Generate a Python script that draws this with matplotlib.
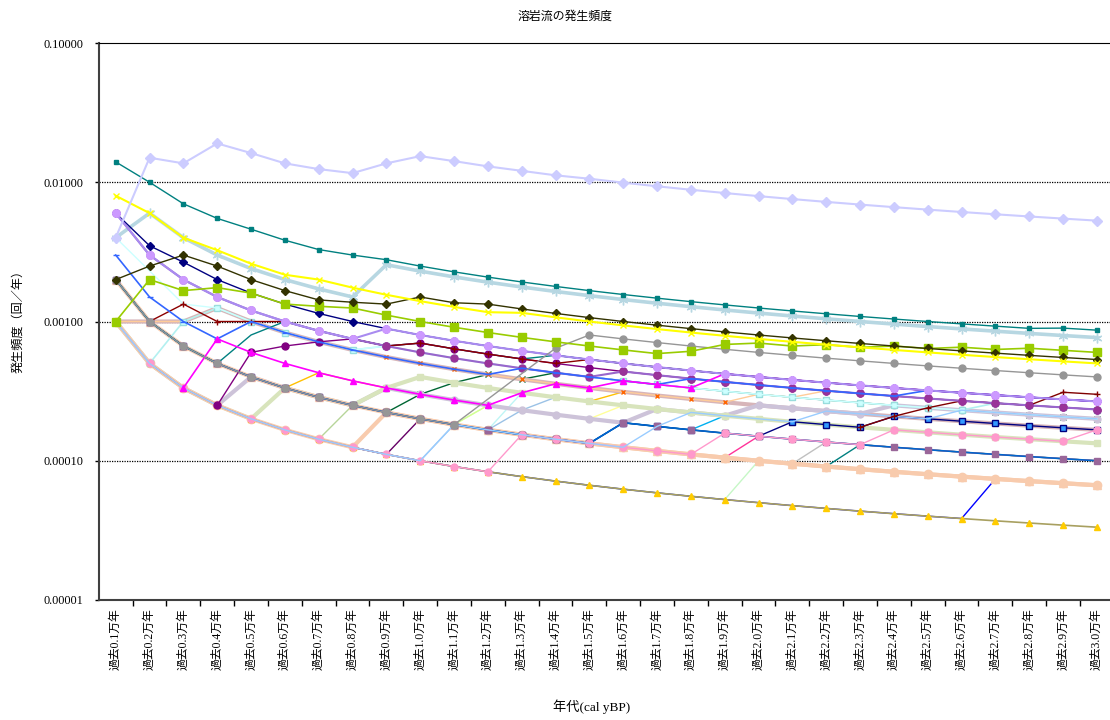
import numpy as np
import matplotlib.pyplot as plt
from matplotlib.ticker import FixedLocator, NullFormatter, NullLocator

plt.rcParams['font.family'] = ['Liberation Serif', 'Noto Sans CJK JP']

# 年代 (万年)
ages = [0.1, 0.2, 0.3, 0.4, 0.5, 0.6, 0.7, 0.8, 0.9, 1.0,
        1.1, 1.2, 1.3, 1.4, 1.5, 1.6, 1.7, 1.8, 1.9, 2.0,
        2.1, 2.2, 2.3, 2.4, 2.5, 2.6, 2.7, 2.8, 2.9, 3.0]
age_labels = ["過去%.1f万年" % a for a in ages]

# cumulative number of lava flows within each period
lava_a = [4, 30, 41, 76, 81, 82, 87, 93, 123, 154, 156, 156, 157, 157, 159, 159, 159, 159, 159, 159, 159, 159, 159, 159, 159, 159, 159, 159, 159, 159]
teal_b = [14, 20, 21, 22, 23, 23, 23, 24, 25, 25, 25, 25, 25, 25, 25, 25, 25, 25, 25, 25, 25, 25, 25, 25, 25, 25, 25, 25, 26, 26]
lblue_c = [4, 12, 12, 12, 12, 12, 12, 12, 23, 23, 23, 23, 23, 23, 23, 23, 23, 23, 23, 23, 23, 23, 23, 23, 23, 23, 23, 23, 23, 23]
yellow_d = [8, 12, 12, 13, 13, 13, 14, 14, 14, 14, 14, 14, 15, 15, 15, 15, 15, 15, 15, 15, 15, 15, 15, 15, 15, 15, 15, 15, 15, 15]
olive_e = [2, 5, 9, 10, 10, 10, 10, 11, 12, 15, 15, 16, 16, 16, 16, 16, 16, 16, 16, 16, 16, 16, 16, 16, 16, 16, 16, 16, 16, 16]
ygreen_f = [1, 4, 5, 7, 8, 8, 9, 10, 10, 10, 10, 10, 10, 10, 10, 10, 10, 11, 13, 14, 14, 15, 15, 16, 16, 17, 17, 18, 18, 18]
gray_g = [2, 2, 2, 2, 2, 2, 2, 2, 2, 2, 2, None, None, 9, 12, 12, 12, 12, 12, 12, 12, 12, 12, 12, 12, 12, 12, 12, 12, 12]
navy_h = [6, 7, 8, 8, 8, 8, 8, 8, 8, 8, 8, 8, 8, 8, 8, 8, 8, 8, 8, 8, 8, 8, 8, 8, 8, 8, 8, 8, 8, 8]
lilac_i = [6, 6, 6, 6, 6, 6, 6, 6, 8, 8, 8, 8, 8, 8, 8, 8, 8, 8, 8, 8, 8, 8, 8, 8, 8, 8, 8, 8, 8, 8]
blue_j = [3, 3, 3, 3, 5, 5, 5, 5, 5, 5, 5, 5, 6, 6, 6, 6, 6, 7, 7, 7, 7, 7, 7, 7, 8, 8, 8, 8, 8, 8]
rosy_k = [1, 2, 3, 5, 5, 5, 5, 5, 5, 5, 5, 5, 5, 5, 5, 5, 5, 5, 5, 5, 5, 5, 5, 5, 5, 5, 5, 5, 5, 5]
mauve_l = [1, 1, 1, 1, 2, 2, 2, 2, 3, 3, 3, 3, 3, 3, 3, 3, 4, 4, 4, 5, 5, 5, 5, 6, 6, 6, 6, 6, 6, 6]
peach_m = [2, 2, 2, 2, 2, 2, 2, 2, 2, 2, 2, 2, 2, 2, 2, 2, 2, 2, 2, 2, 2, 2, 2, 2, 2, 2, 2, 2, 2, 2]
peach_n = [1, 1, 1, 1, 1, 1, 1, 1, 2, 2, 2, 2, 2, 2, 2, 2, 2, 2, 2, 2, 2, 2, 2, 2, 2, 2, 2, 2, 2, 2]
sage_o = [1, 1, 1, 1, 1, 2, 2, 2, 3, 4, 4, 4, 4, 4, 4, 4, 4, 4, 4, 4, 4, 4, 4, 4, 4, 4, 4, 4, 4, 4]
gold_p = [1, 1, 1, 1, 1, 1, 1, 1, 1, 1, 1, 1, 1, 1, 1, 1, 1, 1, 1, 1, 1, 1, 1, 1, 1, 1, 1, 1, 1, 1]
magenta_q = [None, None, 1, 3, 3, 3, 3, 3, 3, 3, 3, 3, 4, 5, 5, 6, 6, 6, 8, 8, 8, 8, 8, 8, 8, 8, 8, 8, 8, 8]
dred_r = [None, 2, 4, 4, 5, 6, 6, 6, 6, 7, 7, 7, 7, 7, 8, 8, 8, 8, 8, 8, 8, 8, 8, 8, 8, 8, 8, 8, 8, 8]
purple_s = [None, None, None, 1, 3, 4, 5, 6, 6, 7, 7, 7, 7, 7, 7, 7, 7, 7, 7, 7, 7, 7, 7, 7, 7, 7, 7, 7, 7, 7]
violet_t = [6, 6, 6, 6, 6, 6, 6, 6, 6, 6, 6, 6, 6, 6, 6, 7, 7, 7, 7, 7, 7, 7, 7, 7, 7, 7, 7, 7, 7, 7]
pink_u = [1, 1, 1, 1, 1, 1, 1, 1, 1, 1, 1, 1, 2, 2, 2, 2, 2, 2, 3, 3, 3, 3, 3, 4, 4, 4, 4, 4, 4, 5]
dpink_v = [2, 2, 2, 2, 2, 2, 2, 2, 2, 2, 2, 2, 2, 2, 2, 2, 2, 2, 2, 3, 3, 3, 3, 3, 3, 3, 3, 3, 3, 3]
navy_w = [2, 2, 2, 2, 2, 2, 2, 2, 2, 2, 2, 2, 2, 2, 2, 3, 3, 3, 3, 3, 4, 4, 4, 5, 5, 5, 5, 5, 5, 5]
sky_x = [2, 2, 2, 2, 2, 2, 2, 2, 2, 2, 2, 2, 2, 2, 2, 3, 3, 3, 4, 4, 4, 4, 4, 4, 4, 4, 4, 4, 4, 4]
pblue_y = [1, 1, 1, 1, 1, 1, 1, 1, 1, 1, 2, 2, 2, 2, 2, 2, 3, 4, 4, 4, 4, 5, 5, 5, 5, 6, 6, 6, 6, 6]
lyellow_z = [2, 2, 2, 2, 2, 2, 2, 2, 2, 2, 2, 3, 3, 3, 3, 4, 4, 4, 4, 4, 4, 4, 4, 4, 4, 4, 4, 4, 4, 4]
lime_aa = [2, 2, 2, 2, 2, 2, 2, 2, 2, 2, 2, 3, 3, 3, 3, 3, 3, 3, 3, 3, 3, 3, 3, 3, 3, 3, 3, 3, 3, 3]
orange_ab = [2, 2, 2, 2, 2, 2, 3, 3, 3, 4, 4, 4, 4, 4, 4, 5, 5, 5, 5, 5, 5, 5, 5, 5, 5, 5, 5, 5, 5, 5]
tan_ac = [1, 2, 3, 5, 5, 5, 5, 5, 5, 5, 5, 5, 5, 5, 5, 5, 5, 5, 5, 6, 6, 7, 7, 7, 7, 7, 7, 7, 7, 7]
cyan_ad = [1, 1, 3, 5, 5, 5, 5, 5, 6, 6, 6, 6, 6, 6, 6, 6, 6, 6, 6, 6, 6, 6, 6, 6, 6, 6, 7, 7, 7, 7]
aqua_aq = [4, None, 4, 5, 5, 5, 5, 5, 6, 6, 6, 6, 6, 6, 6, 6, 6, 6, 6, 6, 6, 6, 6, 6, 6, 6, 6, 6, 6, 6]
green_ae = [1, 1, 1, 1, 1, 1, 1, 1, 2, 3, 4, 5, 5, 6, 6, 6, 6, 6, 6, 6, 6, 6, 6, 6, 6, 6, 6, 6, 6, 6]
plum_af = [1, 1, 1, 1, 1, 1, 1, 1, 1, 2, 2, 2, 2, 2, 2, 2, 2, 2, 2, 2, 2, 2, 2, 2, 2, 2, 2, 2, 2, 2]
steel_ag = [1, 1, 1, 1, 1, 1, 1, 1, 1, 1, 2, 2, 3, 4, 4, 4, 4, 4, 4, 4, 4, 4, 4, 4, 4, 4, 4, 4, 4, 4]
pcyan_ah = [2, 2, 2, 2, 2, 2, 2, 2, 2, 2, 2, 2, 4, 4, 4, 4, 4, 4, 4, 4, 4, 4, 4, 4, 4, 4, 4, 4, 4, 4]
silver_ai = [2, 2, 2, 2, 2, 2, 2, 2, 2, 2, 2, 2, 2, 2, 2, 2, 2, 2, 2, 2, 2, 3, 3, 3, 3, 3, 3, 3, 3, 3]
teal_aj = [2, 2, 2, 2, 2, 2, 2, 2, 2, 2, 2, 2, 2, 2, 2, 2, 2, 2, 2, 2, 2, 2, 3, 3, 3, 3, 3, 3, 3, 3]
teal_ak = [2, 2, 2, 2, 4, 6, 6, 6, 6, 7, 7, 7, 7, 8, 8, 8, 8, 8, 8, 8, 8, 8, 8, 8, 8, 8, 8, 8, 8, 8]
blue_al = [1, 1, 1, 1, 1, 1, 1, 1, 1, 1, 1, 1, 1, 1, 1, 1, 1, 1, 1, 1, 1, 1, 1, 1, 1, 1, 2, 2, 2, 2]
mint_am = [1, 1, 1, 1, 1, 1, 1, 1, 1, 1, 1, 1, 1, 1, 1, 1, 1, 1, 1, 2, 2, 2, 2, 2, 2, 2, 2, 2, 2, 2]
lgreen_an = [1, 1, 1, 1, 1, 1, 1, 2, 2, 2, 2, 2, 2, 2, 2, 2, 2, 2, 2, 2, 2, 2, 2, 2, 2, 2, 2, 2, 2, 2]
cobalt_ao = [2, 2, 2, 2, 2, 2, 2, 2, 2, 2, 2, 2, 2, 2, 2, 3, 3, 3, 3, 3, 3, 3, 3, 3, 3, 3, 3, 3, 3, 3]
dred_ap = [None, None, None, None, None, None, None, None, None, None, None, None, None, None, None, None, None, None, None, None, None, None, 4, 5, 6, 7, 7, 7, 9, 9]

# (data, line colour, marker, marker face, marker edge, line width, marker size)
# hidden stretches sit under the thick pale lines, so those go in the middle
under = [
    (plum_af, '#660066', None, None, None, 1.0, 0),
    (steel_ag, '#9bc2e6', None, None, None, 1.0, 0),
    (pcyan_ah, '#bff5f5', None, None, None, 1.0, 0),
    (lgreen_an, '#b7d59a', None, None, None, 1.0, 0),
    (mint_am, '#c6f7c6', None, None, None, 1.0, 0),
    (blue_al, '#0000ff', None, None, None, 1.0, 0),
    (silver_ai, '#c0c0c0', None, None, None, 1.0, 0),
    (teal_aj, '#008080', None, None, None, 1.0, 0),
    (lyellow_z, '#ffff99', None, None, None, 1.0, 0),
    (lime_aa, '#ccff99', None, None, None, 1.0, 0),
    (dpink_v, '#ff3399', None, None, None, 1.0, 0),
    (sky_x, '#00b0f0', None, None, None, 1.0, 0),
    (green_ae, '#006633', 'x', '#006633', '#006633', 1.0, 4),
    (orange_ab, '#ffc000', None, None, None, 1.0, 0),
]
thick = [
    (lblue_c, '#b7d7e2', (6, 2, 0), '#b7d7e2', '#b7d7e2', 2.6, 7),
    (rosy_k, '#d7b5b9', None, None, None, 3.0, 0),
    (mauve_l, '#cdc3d9', 'o', '#cdc3d9', '#cdc3d9', 3.0, 5),
    (sage_o, '#d8e4bc', 's', '#d8e4bc', '#d8e4bc', 3.0, 5),
    (peach_m, '#f8cbad', '^', '#f8cbad', '#f8cbad', 3.0, 6),
    (peach_n, '#f8cbad', 'o', '#f8cbad', '#f8cbad', 3.0, 6),
    (gold_p, '#a8a060', '^', '#ffcc00', '#ffcc00', 1.2, 5),
]
over = [
    (tan_ac, '#ffcc99', 'x', '#ff6600', '#ff6600', 1.0, 3.5),
    (cyan_ad, '#b3f0f0', 's', '#ccffff', '#99dddd', 1.2, 4.5),
    (aqua_aq, '#ccffff', None, None, None, 1.0, 0),
    (navy_w, '#000080', 's', '#3399ff', '#000080', 1.0, 4),
    (cobalt_ao, '#0066cc', 's', '#996699', '#996699', 1.2, 5),
    (pink_u, '#ff99cc', 'o', '#ff99cc', '#ff99cc', 1.0, 5),
    (pblue_y, '#99ccff', None, None, None, 1.0, 0),
    (dred_ap, '#800000', '+', '#800000', '#800000', 1.0, 5),
    (teal_ak, '#008080', None, None, None, 1.0, 0),
    (purple_s, '#800080', 'o', '#800080', '#800080', 1.0, 5),
    (dred_r, '#8b0000', '+', '#8b0000', '#8b0000', 1.0, 4),
    (violet_t, '#9966cc', 'o', '#993399', '#993399', 1.5, 5),
    (blue_j, '#3366ff', '_', '#3366ff', '#3366ff', 1.2, 5),
    (magenta_q, '#ff00ff', '^', '#ff00ff', '#ff00ff', 1.2, 5),
    (navy_h, '#000080', 'D', '#000080', '#000080', 1.0, 4),
    (lilac_i, '#a98bf0', 'o', '#cc99ff', '#cc99ff', 1.5, 5.5),
    (gray_g, '#969696', 'o', '#969696', '#969696', 1.0, 5),
    (ygreen_f, '#99cc00', 's', '#99cc00', '#99cc00', 1.2, 5.5),
    (olive_e, '#333300', 'D', '#333300', '#333300', 1.0, 4),
    (yellow_d, '#ffff00', 'x', '#ffff00', '#ffff00', 1.5, 5),
    (teal_b, '#008080', 's', '#008080', '#008080', 1.0, 2.5),
    (lava_a, '#ccccff', 'D', '#ccccff', '#ccccff', 1.5, 5),
]

years = np.array(ages) * 10000.0
x = np.arange(len(ages))

fig = plt.figure(figsize=(11.1, 7.2), dpi=100)
ax = fig.add_axes([98.8 / 1110, 1 - 600 / 720, 1015.0 / 1110, 557 / 720])

for data, color, marker, face, edge, lw, ms in under + thick + over:
    counts = np.array([np.nan if v is None else v for v in data], dtype=float)
    freq = counts / years
    ok = ~np.isnan(freq)
    ax.plot(x[ok], freq[ok], color=color, lw=lw, marker=marker if ms else None,
            ms=ms, mfc=face, mec=edge, mew=1.0, clip_on=False)

ax.set_yscale('log')
ax.set_ylim(1e-5, 1e-1)
ax.set_xlim(-0.5, len(ages) - 0.5)

ax.yaxis.set_major_locator(FixedLocator([1e-5, 1e-4, 1e-3, 1e-2, 1e-1]))
ax.yaxis.set_minor_locator(NullLocator())
ax.set_yticklabels(['0.00001', '0.00010', '0.00100', '0.01000', '0.10000'], fontsize=8.8)
ax.tick_params(axis='y', length=3, width=1, direction='out', pad=8)

ax.set_xticks(x)
ax.set_xticklabels(age_labels, rotation=90, fontsize=8.5, va='top')
ax.tick_params(axis='x', which='major', length=0, pad=6)
ax.xaxis.set_minor_locator(FixedLocator(np.arange(0.5, len(ages) - 0.5, 1.0)))
ax.xaxis.set_minor_formatter(NullFormatter())
ax.tick_params(axis='x', which='minor', length=4, width=1, direction='out')

for v in [1e-4, 1e-3, 1e-2]:
    ax.axhline(v, color='black', lw=0.9, ls=(0, (1, 1)), zorder=0.5)

ax.spines['right'].set_visible(False)
ax.spines['top'].set_linewidth(0.8)
ax.spines['left'].set_linewidth(1.5)
ax.spines['left'].set_color('#404040')
ax.spines['bottom'].set_linewidth(1.5)
ax.spines['bottom'].set_color('#404040')

fig.text(0.509, 1 - 17 / 720, '溶岩流の発生頻度', ha='center', va='center', fontsize=8.6)
fig.text(18 / 1110, 1 - 318 / 720, '発生頻度（回／年）', rotation=90, ha='center', va='center', fontsize=8.7)
fig.text(592 / 1110, 1 - 707 / 720, '年代(cal yBP)', ha='center', va='center', fontsize=9.5)

fig.savefig('out.png', dpi=100)
